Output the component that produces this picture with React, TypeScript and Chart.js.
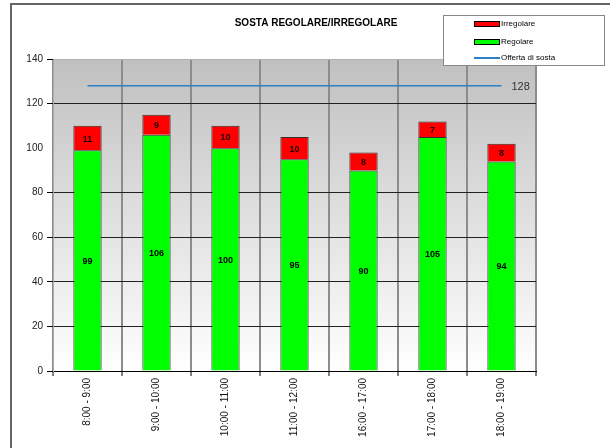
import React, { useEffect, useRef } from "react";
import { Chart, registerables } from "chart.js";

Chart.register(...registerables);

const categories = [
  "8:00 - 9:00",
  "9:00 - 10:00",
  "10:00 - 11:00",
  "11:00 - 12:00",
  "16:00 - 17:00",
  "17:00 - 18:00",
  "18:00 - 19:00",
];
const regolare = [99, 106, 100, 95, 90, 105, 94];
const irregolare = [11, 9, 10, 10, 8, 7, 8];
const offerta = [128, 128, 128, 128, 128, 128, 128];
const titleText = "SOSTA REGOLARE/IRREGOLARE";
const legendLabels = ["Irregolare", "Regolare", "Offerta di sosta"];
const yMin = 0;
const yMax = 140;
const yStep = 20;

const FONT = "'Liberation Sans', Arial, sans-serif";

const decorPlugin = {
  id: "decor",
  beforeDraw(chart: any) {
    const { ctx, chartArea, width, height } = chart;
    ctx.save();
    ctx.fillStyle = "#ffffff";
    ctx.fillRect(0, 0, width, height);
    const g = ctx.createLinearGradient(0, chartArea.top, 0, chartArea.bottom);
    g.addColorStop(0, "#c0c0c0");
    g.addColorStop(1, "#ffffff");
    ctx.fillStyle = g;
    ctx.fillRect(chartArea.left, chartArea.top, chartArea.right - chartArea.left, chartArea.bottom - chartArea.top);
    // outer frame
    ctx.strokeStyle = "#666";
    ctx.lineWidth = 2;
    ctx.beginPath();
    ctx.moveTo(11, height);
    ctx.lineTo(11, 4);
    ctx.lineTo(610, 4);
    ctx.stroke();
    ctx.restore();
  },
  afterDatasetsDraw(chart: any) {
    const { ctx } = chart;
    ctx.save();
    ctx.font = `bold 9px ${FONT}`;
    ctx.textAlign = "center";
    ctx.textBaseline = "middle";
    [0, 1].forEach((di) => {
      const meta = chart.getDatasetMeta(di);
      const data = chart.data.datasets[di].data;
      meta.data.forEach((el: any, i: number) => {
        ctx.fillStyle = di === 0 ? "#000" : "#200";
        ctx.fillText(String(data[i]), el.x, (el.y + el.base) / 2 + 1);
      });
    });
    // 128 label
    const lm = chart.getDatasetMeta(2);
    const last = lm.data[lm.data.length - 1];
    if (last) {
      ctx.font = `11px ${FONT}`;
      ctx.fillStyle = "#333";
      ctx.textAlign = "left";
      ctx.fillText(String(offerta[offerta.length - 1]), last.x + 10, last.y + 1);
    }
    ctx.restore();
  },
  afterDraw(chart: any) {
    const { ctx } = chart;
    ctx.save();
    // title
    ctx.font = `bold 10px ${FONT}`;
    ctx.fillStyle = "#000";
    ctx.textAlign = "center";
    ctx.textBaseline = "middle";
    ctx.fillText(titleText, 316, 23);
    // legend box
    ctx.fillStyle = "#fff";
    ctx.fillRect(443, 15, 161, 50);
    ctx.strokeStyle = "#888";
    ctx.lineWidth = 1;
    ctx.strokeRect(443.5, 15.5, 161, 50);
    const rows = [24, 42, 58];
    const cols = ["#ff0000", "#00ff00"];
    ctx.font = `8px ${FONT}`;
    ctx.textAlign = "left";
    rows.forEach((y, i) => {
      if (i < 2) {
        ctx.fillStyle = cols[i];
        ctx.fillRect(474, y - 2.5, 25, 5);
        ctx.strokeStyle = "#000";
        ctx.strokeRect(474.5, y - 2.5, 25, 5);
      } else {
        ctx.strokeStyle = "#2f7fc8";
        ctx.lineWidth = 2;
        ctx.beginPath();
        ctx.moveTo(474, y);
        ctx.lineTo(500, y);
        ctx.stroke();
        ctx.lineWidth = 1;
      }
      ctx.fillStyle = "#000";
      ctx.fillText(legendLabels[i], 501, y);
    });
    ctx.restore();
  },
};

export default function App() {
  const ref = useRef<HTMLCanvasElement>(null);
  useEffect(() => {
    if (!ref.current) return;
    const chart = new Chart(ref.current, {
      type: "bar",
      data: {
        labels: categories,
        datasets: [
          {
            label: legendLabels[1],
            data: regolare,
            backgroundColor: "#00ff00",
            borderColor: "#333",
            borderWidth: 1,
            barPercentage: 0.41,
            categoryPercentage: 1,
            stack: "s",
            order: 2,
          },
          {
            label: legendLabels[0],
            data: irregolare,
            backgroundColor: "#ff0000",
            borderColor: "#333",
            borderWidth: 1,
            barPercentage: 0.41,
            categoryPercentage: 1,
            stack: "s",
            order: 2,
          },
          {
            type: "line",
            label: legendLabels[2],
            data: offerta,
            borderColor: "#2f7fc8",
            borderWidth: 1.5,
            pointRadius: 0,
            fill: false,
            stack: "line",
            order: 1,
          } as any,
        ],
      },
      options: {
        responsive: false,
        animation: false,
        layout: { padding: { left: 0, top: 59, right: 77, bottom: 0 } },
        plugins: {
          legend: { display: false },
          title: { display: false },
          tooltip: { enabled: false },
        },
        scales: {
          x: {
            stacked: true,
            grid: {
              offset: true,
              color: "#8c8c8c",
              lineWidth: 2,
              tickLength: 5,
              tickColor: "#000",
              tickWidth: 1,
            },
            border: { color: "#000", width: 1 },
            ticks: {
              minRotation: 90,
              maxRotation: 90,
              autoSkip: false,
              padding: 2,
              color: "#111",
              font: { size: 10, family: FONT },
            },
            afterFit: (s: any) => {
              s.height = 77;
            },
          },
          y: {
            stacked: true,
            min: yMin,
            max: yMax,
            ticks: {
              stepSize: yStep,
              padding: 4,
              color: "#222",
              font: { size: 10, family: FONT },
            },
            grid: {
              color: (c: any) =>
                c.tick && c.tick.value === 100
                  ? "rgba(0,0,0,0)"
                  : c.tick && c.tick.value === 140
                  ? "#b0b0b0"
                  : "#222",
              tickColor: (c: any) =>
                c.tick && c.tick.value === 100 ? "rgba(0,0,0,0)" : "#000",
              lineWidth: 1,
              tickLength: 6,
            },
            border: { color: "#aaa", width: 1 },
            afterFit: (s: any) => {
              s.width = 53;
            },
          },
        },
      },
      plugins: [decorPlugin],
    } as any);
    return () => chart.destroy();
  }, []);
  return (
    <div style={{ position: "fixed", left: 0, top: 0, width: 613, height: 448 }}>
      <canvas ref={ref} width={613} height={448} style={{ display: "block" }} />
    </div>
  );
}
